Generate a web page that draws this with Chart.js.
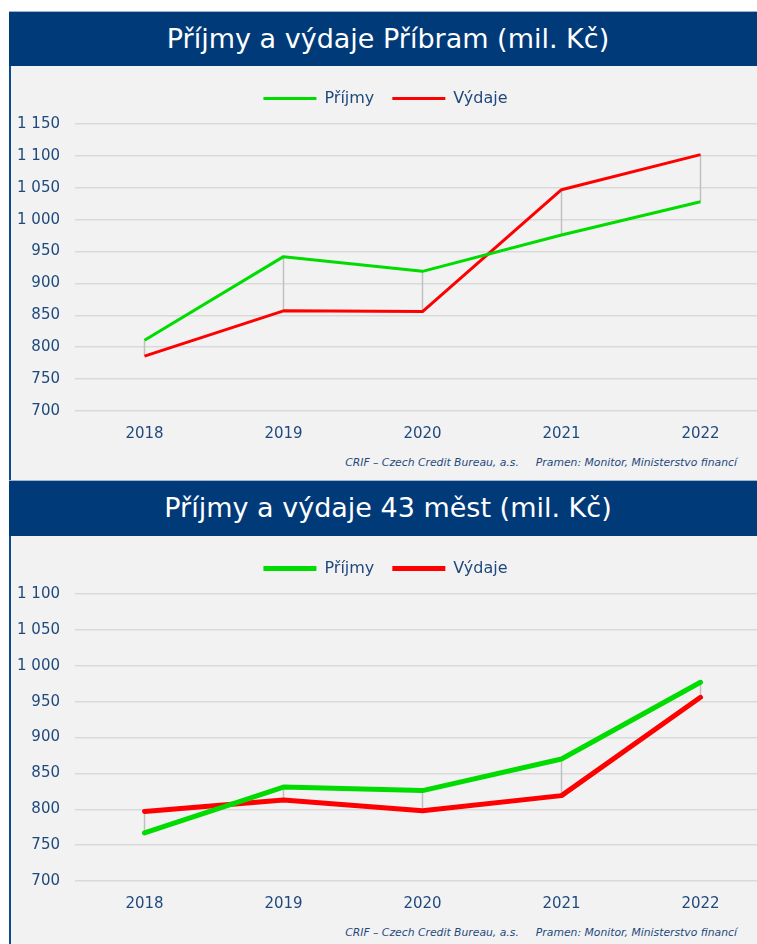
<!DOCTYPE html>
<html lang="cs">
<head>
<meta charset="utf-8">
<title>Příjmy a výdaje</title>
<script src="https://cdn.jsdelivr.net/npm/chart.js@4.4.1/dist/chart.umd.min.js"></script>
<style>
    html, body {
        margin: 0;
        padding: 0;
        background: #fff;
        width: 757px;
        height: 944px;
        overflow: hidden;
        position: relative;
        font-family: "DejaVu Sans", Verdana, sans-serif;
    }
    .header {
        position: absolute;
        left: 9px;
        width: 758px;
        background: #003a78;
        color: #fff;
        border-top: 1px solid #9fb3cc;
        box-sizing: border-box;
        font-family: "DejaVu Sans", Verdana, sans-serif;
        font-size: 27px;
        text-align: center;
    }
    .panel {
        position: absolute;
        left: 9px;
        width: 758px;
        background: #f2f2f2;
        border-left: 2px solid #0d4a8f;
        box-sizing: border-box;
    }
    .chart-box {
        position: absolute;
        left: 11px;
        width: 759px;
        height: 390px;
    }
    .source {
        position: absolute;
        left: 0;
        width: 737px;
        text-align: right;
        font-style: italic;
        font-size: 10.8px;
        line-height: 13px;
        color: #1f497d;
    }
    .source span + span { margin-left: 17px; }
</style>
</head>
<body>

<div class="header" style="top:11px; height:55px; line-height:53px;">Příjmy a výdaje Příbram (mil. Kč)</div>
<div class="panel" style="top:66px; height:414px;"></div>
<div class="chart-box" style="top:66px;"><canvas id="chartPribram"></canvas></div>
<div class="source" style="top:456px;"><span>CRIF – Czech Credit Bureau, a.s.</span><span>Pramen: Monitor, Ministerstvo financí</span></div>

<div class="header" style="top:480px; height:56px; line-height:54px;">Příjmy a výdaje 43 měst (mil. Kč)</div>
<div class="panel" style="top:536px; height:408px;"></div>
<div class="chart-box" style="top:536px;"><canvas id="chart43"></canvas></div>
<div class="source" style="top:926px;"><span>CRIF – Czech Credit Bureau, a.s.</span><span>Pramen: Monitor, Ministerstvo financí</span></div>

<script>
// Roky na ose X
const years = ['2018', '2019', '2020', '2021', '2022'];

// Příbram (mil. Kč)
const prijmyPribram = [811, 942, 919, 976, 1028];
const vydajePribram = [786, 857, 856, 1047, 1102];
const ticksPribram = [700, 750, 800, 850, 900, 950, 1000, 1050, 1100, 1150];

// 43 měst (mil. Kč)
const prijmy43 = [767, 831, 826, 870, 977];
const vydaje43 = [797, 813, 798, 819, 956];
const ticks43 = [700, 750, 800, 850, 900, 950, 1000, 1050, 1100];

const GREEN = '#00dc00';
const RED = '#ff0000';
const TEXT = '#1f497d';
const FONT = '"DejaVu Sans", Verdana, sans-serif';

// 1150 -> "1 150"
function formatTick(v) {
    if (v < 1000) return String(v);
    return Math.floor(v / 1000) + ' ' + String(v % 1000).padStart(3, '0');
}

// grey high-low lines between the two series
const dropLines = {
    id: 'dropLines',
    beforeDatasetsDraw(chart) {
        const a = chart.getDatasetMeta(0).data;
        const b = chart.getDatasetMeta(1).data;
        const ctx = chart.ctx;
        ctx.save();
        ctx.strokeStyle = '#c0c0c0';
        ctx.lineWidth = 1.5;
        a.forEach((p, i) => {
            ctx.beginPath();
            ctx.moveTo(p.x, p.y);
            ctx.lineTo(b[i].x, b[i].y);
            ctx.stroke();
        });
        ctx.restore();
    }
};

// extra room under the legend, legend nudged a bit to the left
const legendGap = {
    id: 'legendGap',
    beforeInit(chart) {
        const fit = chart.legend.fit;
        chart.legend.fit = function () {
            fit.bind(chart.legend)();
            this.height += 7.5;
        };
    },
    afterLayout(chart) {
        chart.legend.left -= 5;
        chart.legend.right -= 5;
    }
};

function makeChart(id, prijmy, vydaje, ticks, width, cap) {
    const ctx = document.getElementById(id).getContext('2d');
    return new Chart(ctx, {
        type: 'line',
        data: {
            labels: years,
            datasets: [{
                label: 'Příjmy',
                data: prijmy,
                borderColor: GREEN,
                backgroundColor: GREEN,
                borderWidth: width,
                borderCapStyle: cap,
                borderJoinStyle: 'round',
                pointRadius: 0,
                tension: 0
            }, {
                label: 'Výdaje',
                data: vydaje,
                borderColor: RED,
                backgroundColor: RED,
                borderWidth: width,
                borderCapStyle: cap,
                borderJoinStyle: 'round',
                pointRadius: 0,
                tension: 0
            }]
        },
        options: {
            responsive: true,
            maintainAspectRatio: false,
            animation: false,
            layout: { padding: { top: 6.5, left: 0, right: 0, bottom: 7 } },
            plugins: {
                legend: {
                    display: true,
                    position: 'top',
                    labels: {
                        usePointStyle: true,
                        pointStyle: 'line',
                        pointStyleWidth: 53,
                        padding: 18,
                        color: TEXT,
                        font: { family: FONT, size: 16 }
                    }
                },
                tooltip: { enabled: false }
            },
            scales: {
                x: {
                    offset: true,
                    grid: { display: false },
                    border: { display: false },
                    ticks: {
                        padding: 6,
                        color: TEXT,
                        font: { family: FONT, size: 15 }
                    }
                },
                y: {
                    min: ticks[0],
                    max: ticks[ticks.length - 1],
                    afterBuildTicks: function (scale) {
                        scale.ticks = ticks.map(v => ({ value: v }));
                    },
                    afterFit: function (scale) {
                        scale.width = 64;
                    },
                    grid: { color: '#d9d9d9', lineWidth: 1.5, drawTicks: false },
                    border: { display: false },
                    ticks: {
                        padding: 15,
                        color: TEXT,
                        font: { family: FONT, size: 15 },
                        callback: function (value) {
                            return formatTick(value);
                        }
                    }
                }
            }
        },
        plugins: [dropLines, legendGap]
    });
}

makeChart('chartPribram', prijmyPribram, vydajePribram, ticksPribram, 3, 'butt');
makeChart('chart43', prijmy43, vydaje43, ticks43, 5, 'round');
</script>
</body>
</html>
